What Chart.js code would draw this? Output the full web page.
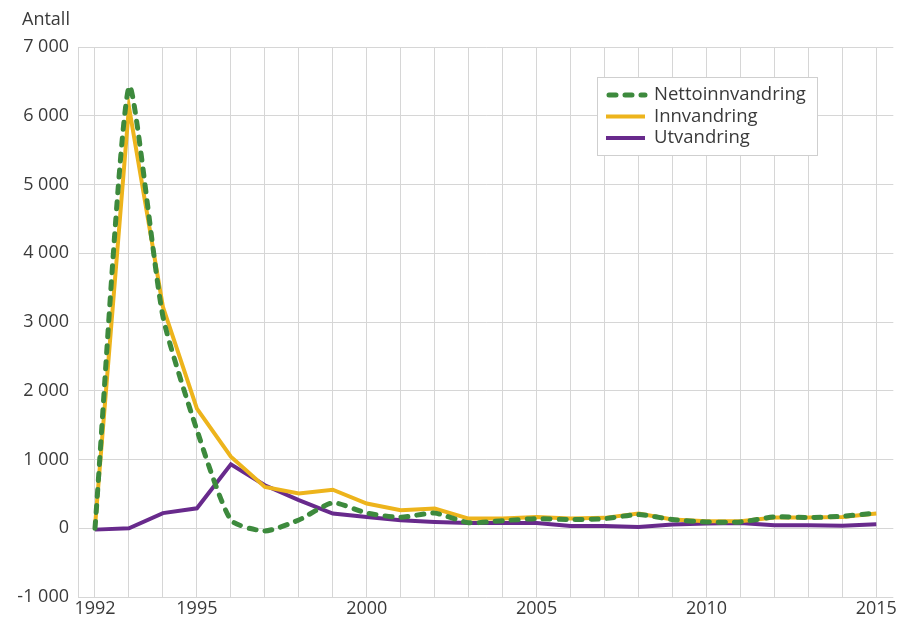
<!DOCTYPE html>
<html>
<head>
<meta charset="utf-8">
<script src="https://cdn.jsdelivr.net/npm/chart.js@4"></script>
<style>
  html, body { margin: 0; background: #fff; }
</style>
</head>
<body>
<canvas id="chart1" width="898" height="622"></canvas>
<script>
const years = [1992, 1993, 1994, 1995, 1996, 1997, 1998, 1999, 2000, 2001, 2002, 2003,
               2004, 2005, 2006, 2007, 2008, 2009, 2010, 2011, 2012, 2013, 2014, 2015];
const shownYears = [1992, 1995, 2000, 2005, 2010, 2015];
const netto = [0, 6420, 3080, 1430, 120, -40, 120, 370, 220, 160, 220, 80,
               110, 140, 125, 140, 200, 126, 92, 92, 165, 155, 175, 220];
const innvandring = [20, 6130, 3220, 1740, 1040, 600, 505, 560, 360, 262, 287, 141,
                     141, 165, 141, 151, 214, 126, 102, 102, 155, 155, 165, 214];
const utvandring = [-20, 0, 220, 290, 930, 625, 410, 214, 165, 116, 92, 77,
                    75, 75, 33, 33, 20, 53, 68, 77, 43, 43, 35, 58];

const green = '#3d8a3d';
const orange = '#edb41c';
const purple = '#682a8c';
const gridColor = '#d6d6d6';
const textColor = '#3a3a3a';
const font = '"Open Sans", sans-serif';

function fmt(v) {
  const s = String(Math.abs(v)).replace(/\B(?=(\d{3})+(?!\d))/g, ' ');
  return (v < 0 ? '-' : '') + s;
}

// legend box inside the plot + "Antall" caption
const extras = {
  id: 'extras',
  afterDraw(chart) {
    const ctx = chart.ctx;
    ctx.save();
    ctx.fillStyle = '#fff';
    ctx.strokeStyle = '#cfcfcf';
    ctx.lineWidth = 1;
    ctx.fillRect(597.5, 77.5, 220, 78);
    ctx.strokeRect(597.5, 77.5, 220, 78);
    ctx.font = '18.5px ' + font;
    ctx.textBaseline = 'middle';
    chart.data.datasets.forEach((ds, i) => {
      const y = 95 + i * 21.5;
      ctx.beginPath();
      ctx.setLineDash(ds.borderDash || []);
      ctx.lineCap = ds.borderDash ? 'round' : 'butt';
      ctx.strokeStyle = ds.borderColor;
      ctx.lineWidth = ds.borderWidth;
      ctx.moveTo(ds.borderDash ? 609 : 606, y);
      ctx.lineTo(645, y);
      ctx.stroke();
      ctx.setLineDash([]);
      ctx.fillStyle = textColor;
      ctx.fillText(ds.label, 654, y);
    });
    ctx.font = '18px ' + font;
    ctx.fillText('Antall', 22, 20);
    ctx.restore();
  }
};

new Chart("chart1", {
  type: "line",
  data: {
    labels: years,
    datasets: [{
      label: 'Nettoinnvandring',
      data: netto,
      borderColor: green,
      backgroundColor: green,
      borderWidth: 5,
      borderDash: [7, 9],
      borderCapStyle: 'round',
      tension: 0.2,
      pointRadius: 0
    }, {
      label: 'Innvandring',
      data: innvandring,
      borderColor: orange,
      backgroundColor: orange,
      borderWidth: 4,
      pointRadius: 0
    }, {
      label: 'Utvandring',
      data: utvandring,
      borderColor: purple,
      backgroundColor: purple,
      borderWidth: 4,
      pointRadius: 0
    }]
  },
  options: {
    responsive: false,
    animation: false,
    layout: { padding: { top: 47, right: 4, left: 0, bottom: 0 } },
    plugins: {
      legend: { display: false },
      tooltip: { enabled: false }
    },
    scales: {
      x: {
        offset: true,
        grid: { offset: false, color: gridColor, drawTicks: false },
        border: { display: false },
        afterFit(scale) { scale.height = 25; },
        ticks: {
          autoSkip: false,
          maxRotation: 0,
          padding: 1,
          color: textColor,
          font: { family: font, size: 18 },
          callback(value) {
            const y = years[value];
            return shownYears.includes(y) ? String(y) : '';
          }
        }
      },
      y: {
        min: -1000,
        max: 7000,
        grid: { color: gridColor, drawTicks: false },
        border: { color: gridColor },
        afterFit(scale) { scale.width = 78; },
        ticks: {
          stepSize: 1000,
          padding: 9,
          color: textColor,
          font: { family: font, size: 18 },
          callback: (v) => fmt(v)
        }
      }
    }
  },
  plugins: [extras]
});
</script>
</body>
</html>
